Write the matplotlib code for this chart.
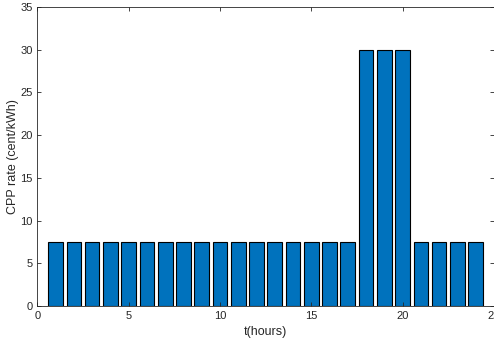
import matplotlib.pyplot as plt

plt.rcParams['font.family'] = ['Liberation Sans', 'DejaVu Sans']

hours = list(range(1, 25))
rates = [7.5] * 17 + [30, 30, 30] + [7.5] * 4

fig = plt.figure(figsize=(4.94, 3.47), dpi=100)
ax = fig.add_axes([0.0757, 0.118, 0.924, 0.862])

ax.bar(hours, rates, width=0.8, color='#0072BD', edgecolor='black', linewidth=0.8)

ax.set_xlim(0, 25)
ax.set_ylim(0, 35)
ax.set_xticks([0, 5, 10, 15, 20, 25])
ax.set_yticks(range(0, 36, 5))
ax.tick_params(direction='in', top=True, right=True, labelsize=8, colors='#262626',
               length=3, width=0.6, labelcolor='#262626')
for s in ax.spines.values():
    s.set_color('#262626')
    s.set_linewidth(0.6)

ax.set_xlabel('t(hours)', fontsize=9, color='#262626')
ax.set_ylabel('CPP rate (cent/kWh)', fontsize=9, color='#262626', labelpad=1)

fig.savefig('out.png', dpi=100)
